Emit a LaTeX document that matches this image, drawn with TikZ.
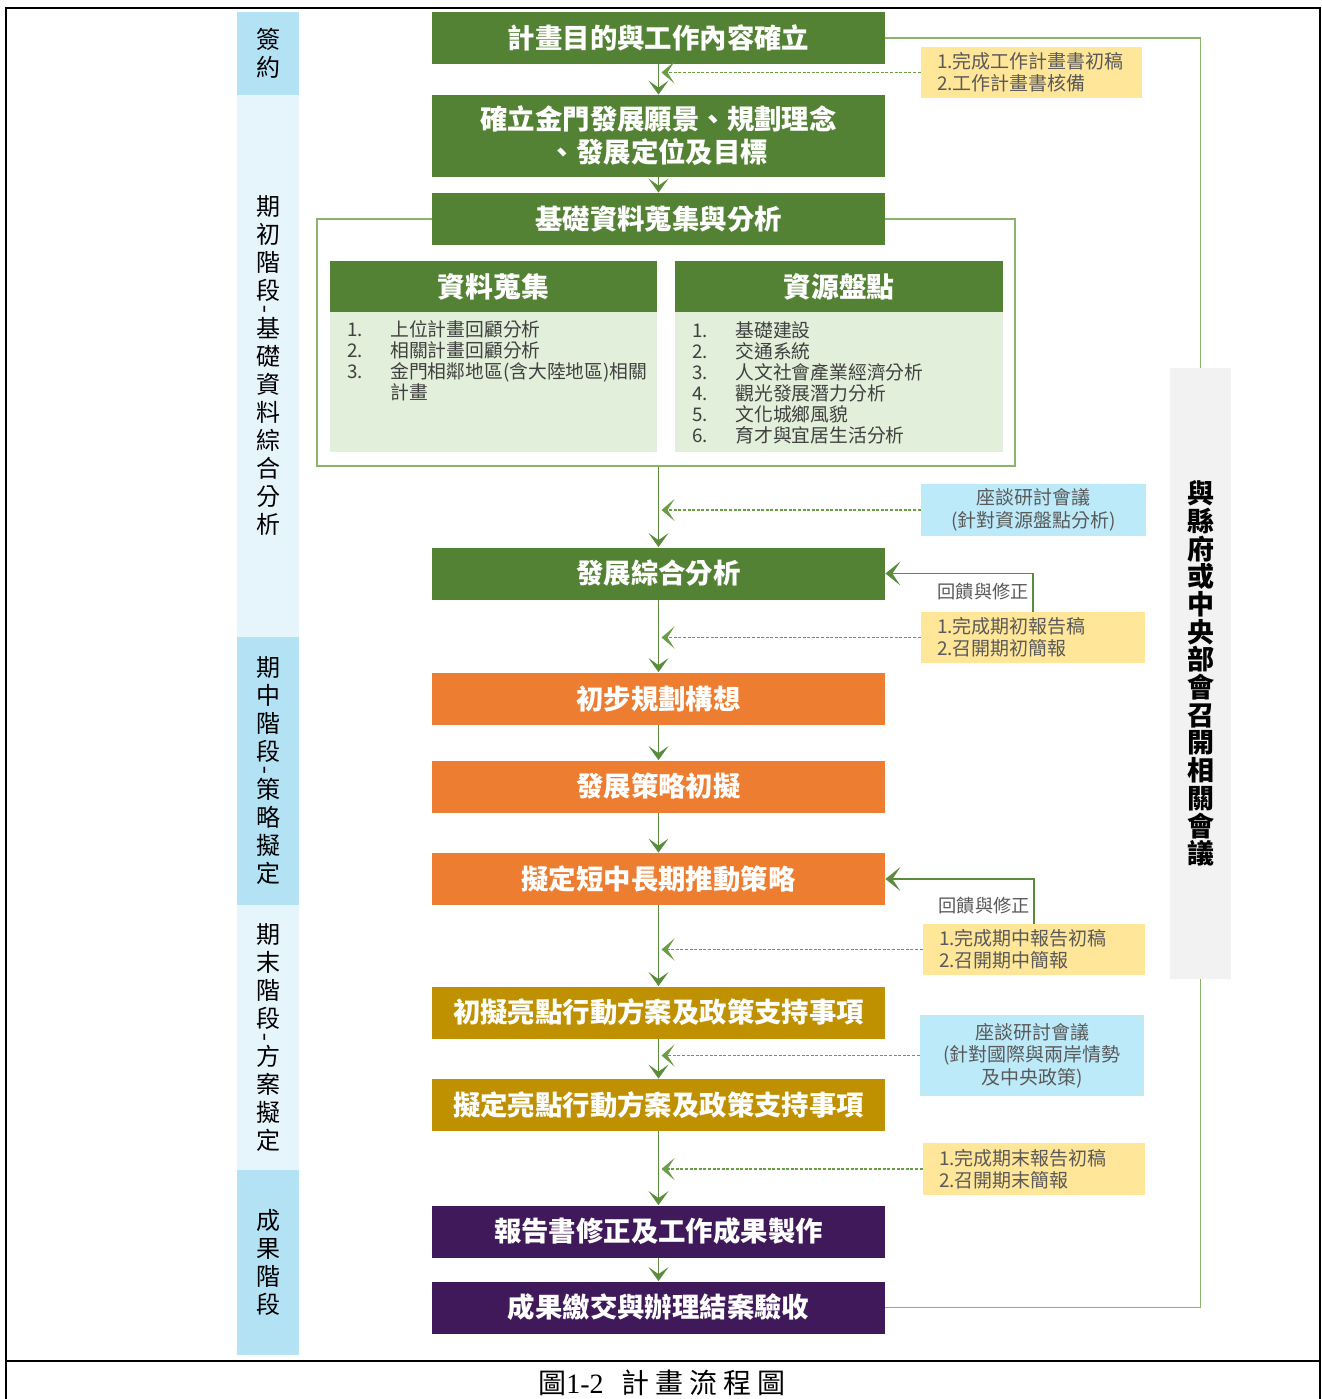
\documentclass[tikz,border=0pt]{standalone}
\usepackage{fontspec}
\usepackage{graphicx}
\setmainfont{Noto Sans CJK TC}
\newfontfamily\capfont{Liberation Serif}
\usetikzlibrary{arrows.meta,calc}
\definecolor{gbox}{HTML}{548235}
\definecolor{gbody}{HTML}{E2EFDA}
\definecolor{obox}{HTML}{ED7D31}
\definecolor{ybox}{HTML}{BF9000}
\definecolor{pbox}{HTML}{40195A}
\definecolor{ynote}{HTML}{FFE699}
\definecolor{bnote}{HTML}{BDEAF9}
\definecolor{phdark}{HTML}{B4E2F5}
\definecolor{phlight}{HTML}{E6F5FC}
\definecolor{graybox}{HTML}{F2F2F2}
\definecolor{notegray}{HTML}{595959}
\definecolor{lngreen}{HTML}{5B8C3C}
\definecolor{dshgreen}{HTML}{6A9E45}
\definecolor{frgreen}{HTML}{8AB46C}
\definecolor{listgray}{HTML}{404040}
\tikzset{
  mbox/.style={fill=#1, text=white, font=\fontsize{13.7}{16.5}\selectfont\bfseries,
    minimum width=226.5pt, minimum height=26pt, inner sep=0pt, align=center},
  hdr/.style={fill=gbox, text=white, font=\fontsize{13.9}{16}\selectfont\bfseries,
    minimum height=25.5pt, inner sep=0pt},
  bodybox/.style={fill=gbody, minimum height=70pt, inner sep=0pt},
  listtxt/.style={text=listgray, font=\fontsize{9.4}{10.5}\selectfont, align=left, inner sep=0pt},
  ynotebox/.style={fill=ynote, text=notegray, font=\fontsize{9.5}{11}\selectfont,
    align=left, inner xsep=8pt, inner ysep=0pt, minimum height=25.5pt},
  bnotebox/.style={fill=bnote, text=notegray, font=\fontsize{9.5}{11.2}\selectfont,
    align=center, inner sep=0pt},
  phase/.style={fill=#1, text=black, font=\fontsize{12}{14}\selectfont,
    minimum width=31pt, inner sep=0pt, align=center},
  mainln/.style={draw=lngreen, line width=0.8pt, -{Stealth[length=7pt,width=10pt,inset=3.5pt]}},
  dsh/.style={draw=dshgreen, line width=0.6pt, dash pattern=on 1.5pt off 0.8pt,
    -{Stealth[length=6.5pt,width=11pt,inset=3.5pt,sep=0pt]}},
  fbln/.style={draw=lngreen, line width=0.7pt, -{Stealth[length=7.5pt,width=12pt,inset=4pt]}},
  fblabel/.style={text=notegray, font=\fontsize{9.1}{11}\selectfont, inner sep=0pt},
  loopln/.style={draw=frgreen, line width=0.8pt},
}
\begin{document}
\begin{tikzpicture}[x=0.5pt,y=-0.5pt]
\useasboundingbox (0,0) rectangle (1322,1399);

% outer frame
\draw[line width=1pt] (6,1399) -- (6,8) -- (1320,8) -- (1320,1399);
\draw[line width=1pt] (6,1361) -- (1320,1361);

% phase column
\node[phase=phdark, minimum height=41.5pt] (p1) at (268,53.5) {簽\\約};
\node[phase=phlight, minimum height=271pt] (p2) at (268,366)
  {期\\初\\階\\段\\[-7.1pt]\rotatebox{90}{-}\\[-1.9pt]基\\礎\\資\\料\\綜\\合\\分\\析};
\node[phase=phdark, minimum height=134pt] (p3) at (268,771)
  {期\\中\\階\\段\\[-7.1pt]\rotatebox{90}{-}\\[-1.9pt]策\\略\\擬\\定};
\node[phase=phlight, minimum height=132.5pt] (p4) at (268,1037.5)
  {期\\末\\階\\段\\[-7.1pt]\rotatebox{90}{-}\\[-1.9pt]方\\案\\擬\\定};
\node[phase=phdark, minimum height=92.5pt] (p5) at (268,1262.5) {成\\果\\階\\段};

% frame around data boxes
\node[draw=frgreen, line width=0.7pt, minimum width=349pt, minimum height=123.5pt, inner sep=0pt] (fr) at (666,342.5) {};

% main boxes
\node[mbox=gbox] (b1) at (658.5,38) {計畫目的與工作內容確立};
\node[mbox=gbox, minimum height=41pt] (b2) at (658.5,136) {確立金門發展願景、規劃理念\\、發展定位及目標};
\node[mbox=gbox] (b3) at (658.5,219) {基礎資料蒐集與分析};

% sub boxes
\node[hdr, minimum width=163.5pt] (h1) at (493.5,286.5) {資料蒐集};
\node[bodybox, minimum width=163.5pt] (bd1) at (493.5,382) {};
\node[hdr, minimum width=164pt] (h2) at (839,286.5) {資源盤點};
\node[bodybox, minimum width=164pt] (bd2) at (839,382) {};
\node[listtxt, anchor=north west] (l1) at (347,320.5)
  {\makebox[21.5pt][l]{1.}上位計畫回顧分析\\
   \makebox[21.5pt][l]{2.}相關計畫回顧分析\\
   \makebox[21.5pt][l]{3.}金門相鄰地區(含大陸地區)相關\\
   \hspace*{21.5pt}計畫};
\node[listtxt, anchor=north west] (l2) at (692,321.5)
  {\makebox[21.5pt][l]{1.}基礎建設\\
   \makebox[21.5pt][l]{2.}交通系統\\
   \makebox[21.5pt][l]{3.}人文社會產業經濟分析\\
   \makebox[21.5pt][l]{4.}觀光發展潛力分析\\
   \makebox[21.5pt][l]{5.}文化城鄉風貌\\
   \makebox[21.5pt][l]{6.}育才與宜居生活分析};

\node[mbox=gbox] (b6) at (658.5,573.5) {發展綜合分析};
\node[mbox=obox] (b7) at (658.5,698.5) {初步規劃構想};
\node[mbox=obox] (b8) at (658.5,786.5) {發展策略初擬};
\node[mbox=obox] (b9) at (658.5,879) {擬定短中長期推動策略};
\node[mbox=ybox] (b10) at (658.5,1012.5) {初擬亮點行動方案及政策支持事項};
\node[mbox=ybox] (b11) at (658.5,1105) {擬定亮點行動方案及政策支持事項};
\node[mbox=pbox] (b12) at (658.5,1231.5) {報告書修正及工作成果製作};
\node[mbox=pbox] (b13) at (658.5,1307.5) {成果繳交與辦理結案驗收};

% right loop and gray box
\coordinate (rgtop) at (1200.5,368);
\coordinate (rgbot) at (1200.5,979);
\draw[loopln] (b1.east) -| (rgtop);
\draw[loopln] (rgbot) |- (b13.east);
\node[fill=graybox, minimum width=30.5pt, minimum height=305.5pt, inner sep=0pt,
  align=center, font=\fontsize{13.5}{13.85}\selectfont\bfseries] (rg) at (1200.5,673.5)
  {與\\縣\\府\\或\\中\\央\\部\\會\\召\\開\\相\\關\\會\\議};

% notes
\node[ynotebox, text width=94.5pt] (n1) at (1031.5,72.5) {1.完成工作計畫書初稿\\2.工作計畫書核備};
\node[bnotebox, minimum width=112.5pt, minimum height=26pt] (n2) at (1033.5,510) {座談研討會議\\(針對資源盤點分析)};
\node[ynotebox, text width=96pt] (n3) at (1033,637.5) {1.完成期初報告稿\\2.召開期初簡報};
\node[ynotebox, text width=95pt] (n4) at (1034,949.5) {1.完成期中報告初稿\\2.召開期中簡報};
\node[bnotebox, minimum width=112pt, minimum height=40.5pt] (n5) at (1032,1055.5) {座談研討會議\\(針對國際與兩岸情勢\\及中央政策)};
\node[ynotebox, text width=95pt, minimum height=26pt] (n6) at (1034,1169) {1.完成期末報告初稿\\2.召開期末簡報};

% main flow
\draw[mainln] (b1) -- (b2);
\draw[mainln] (b2) -- (b3);
\draw[mainln] (fr.south -| b6.north) -- (b6);
\draw[mainln] (b6) -- (b7);
\draw[mainln] (b7) -- (b8);
\draw[mainln] (b8) -- (b9);
\draw[mainln] (b9) -- (b10);
\draw[mainln] (b10) -- (b11);
\draw[mainln] (b11) -- (b12);
\draw[mainln] (b12) -- (b13);

% dashed inputs
\draw[dsh] (n1.west) -- ($(n1.west -| b1.south)+(3,0)$);
\draw[dsh] (n2.west) -- ($(n2.west -| b1.south)+(3,0)$);
\draw[dsh] (n3.west) -- ($(n3.west -| b1.south)+(3,0)$);
\draw[dsh] (n4.west) -- ($(n4.west -| b1.south)+(3,0)$);
\draw[dsh] (n5.west) -- ($(n5.west -| b1.south)+(3,0)$);
\draw[dsh] (n6.west) -- ($(n6.west -| b1.south)+(3,0)$);

% feedback
\draw[fbln] (n3.north) |- (b6.east);
\node[fblabel, anchor=east] (fl1) at (1029,592) {回饋與修正};
\draw[fbln] (n4.north) |- (b9.east);
\node[fblabel, anchor=east] (fl2) at (1030,906) {回饋與修正};

% caption
\node[inner sep=0pt, font=\fontsize{14}{15}\selectfont] (cap) at (662,1383)
  {圖{\capfont 1-2}\hspace{9pt}計\hspace{3pt}畫\hspace{3pt}流\hspace{3pt}程\hspace{3pt}圖};
\end{tikzpicture}
\end{document}
